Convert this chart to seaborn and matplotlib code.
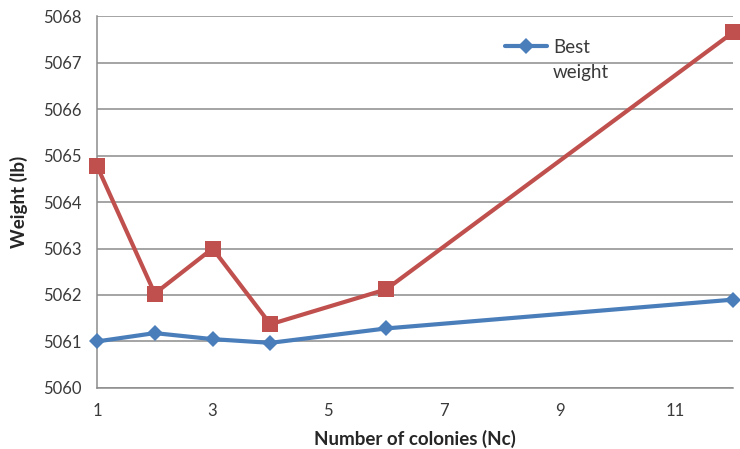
import matplotlib
matplotlib.use("Agg")
import matplotlib.pyplot as plt
from matplotlib.text import Annotation
import seaborn as sns
import pandas as pd

colonies = [1, 2, 3, 4, 6, 12]
best_weight = [5061.00, 5061.18, 5061.05, 5060.97, 5061.28, 5061.90]
mean_weight = [5064.78, 5062.03, 5063.00, 5061.37, 5062.12, 5067.65]

sns.set_style("white")
plt.rcParams["font.family"] = ["Lato", "DejaVu Sans"]

fig = plt.figure(figsize=(7.4, 4.49), dpi=100)
ax = fig.add_axes([0.131, 0.136, 0.8595, 0.828])

grid_color = "#8c8c8c"
text_color = "#3a3a3a"
blue = "#4A7EBB"
red = "#C0504D"

df_best = pd.DataFrame({"Nc": colonies, "w": best_weight})
df_mean = pd.DataFrame({"Nc": colonies, "w": mean_weight})

sns.lineplot(data=df_mean, x="Nc", y="w", ax=ax, color=red, linewidth=3,
             marker="s", markersize=11, markeredgewidth=0, zorder=3,
             clip_on=False)
sns.lineplot(data=df_best, x="Nc", y="w", ax=ax, color=blue, linewidth=3,
             marker="D", markersize=8.5, markeredgewidth=0, zorder=4,
             clip_on=False, label="Best")

ax.set_xlim(1, 12)
ax.set_ylim(5060, 5068)
ax.set_yticks(range(5060, 5069))
ax.set_xticks([1, 3, 5, 7, 9, 11])
ax.set_xticks(range(1, 13), minor=True)
ax.yaxis.grid(True, color=grid_color, linewidth=1.1)
ax.set_axisbelow(True)

for side in ("top", "right"):
    ax.spines[side].set_visible(False)
for side in ("left", "bottom"):
    ax.spines[side].set_color(grid_color)
    ax.spines[side].set_linewidth(1.1)

ax.tick_params(axis="both", which="both", direction="out", color=grid_color,
               length=5, width=1.1, labelsize=12, labelcolor=text_color)
ax.tick_params(axis="x", pad=6)
ax.tick_params(axis="y", pad=6)

ax.set_xlabel("Number of colonies (Nc)", fontsize=13.5, fontweight="bold",
              color="#262626", labelpad=8)
ax.set_ylabel("Weight (lb)", fontsize=13.5, fontweight="bold",
              color="#262626", labelpad=11)

# Legend entry with its label wrapped onto a second line under the first
leg = ax.legend(loc="center left", bbox_to_anchor=(0.6415, 0.917),
                frameon=False, fontsize=13.5, handlelength=2.25,
                handletextpad=0.3, borderaxespad=0, borderpad=0)
best_txt = leg.get_texts()[0]
best_txt.set_color(text_color)
wrap = Annotation("weight", xy=(0, 0), xycoords=best_txt, xytext=(0, -25),
                  textcoords="offset pixels", fontsize=13.5, color=text_color,
                  ha="left", va="bottom", zorder=10)
fig.add_artist(wrap)

fig.savefig("out.png", dpi=100)
